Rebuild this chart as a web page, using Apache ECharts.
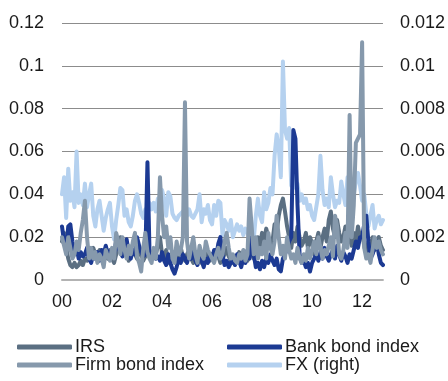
<!DOCTYPE html>
<html>
<head>
<meta charset="utf-8">
<script src="https://cdn.jsdelivr.net/npm/echarts@6/dist/echarts.min.js"></script>
<style>
  html, body { margin: 0; padding: 0; background: #ffffff; }
  #chart { width: 448px; height: 381px; }
</style>
</head>
<body>
<div id="chart"></div>
<script>
// Monthly volatility measures, Jan 2000 - Nov 2012
const startYear = 2000;
const monthCount = 155;

const irs = [
  0.018,0.022,0.015,0.010,0.007,0.006,0.008,0.006,0.007,0.009,0.007,0.010,
  0.009,0.012,0.010,0.015,0.012,0.010,0.014,0.011,0.009,0.012,0.010,0.014,
  0.010,0.008,0.012,0.016,0.020,0.012,0.016,0.013,0.009,0.011,0.014,0.012,
  0.010,0.014,0.012,0.009,0.011,0.015,0.012,0.010,0.014,0.012,0.016,0.020,
  0.012,0.010,0.014,0.008,0.011,0.009,0.013,0.010,0.012,0.015,0.011,0.009,
  0.012,0.014,0.010,0.008,0.011,0.013,0.010,0.008,0.012,0.015,0.011,0.009,
  0.012,0.010,0.014,0.011,0.008,0.010,0.012,0.015,0.011,0.009,0.008,0.011,
  0.010,0.013,0.010,0.012,0.010,0.009,0.011,0.014,0.010,0.012,0.020,0.016,
  0.022,0.018,0.024,0.020,0.015,0.018,0.026,0.022,0.030,0.035,0.038,0.032,
  0.025,0.020,0.015,0.022,0.018,0.025,0.020,0.016,0.018,0.022,0.015,0.020,
  0.017,0.012,0.018,0.022,0.015,0.020,0.024,0.018,0.028,0.032,0.024,0.020,
  0.028,0.022,0.018,0.020,0.025,0.018,0.020,0.016,0.022,0.018,0.025,0.020,
  0.022,0.016,0.012,0.018,0.015,0.020,0.014,0.018,0.020,0.016,0.014
];

const bankBond = [
  0.025,0.018,0.014,0.025,0.026,0.018,0.012,0.015,0.010,0.013,0.011,0.012,
  0.015,0.010,0.008,0.012,0.010,0.013,0.009,0.014,0.012,0.016,0.012,0.013,
  0.014,0.012,0.018,0.015,0.013,0.011,0.015,0.019,0.013,0.010,0.014,0.012,
  0.020,0.016,0.013,0.011,0.012,0.055,0.013,0.011,0.012,0.010,0.011,0.009,
  0.013,0.009,0.007,0.012,0.008,0.005,0.003,0.006,0.010,0.008,0.012,0.010,
  0.008,0.012,0.010,0.015,0.009,0.007,0.012,0.009,0.006,0.010,0.008,0.012,
  0.010,0.014,0.011,0.017,0.020,0.012,0.007,0.009,0.006,0.008,0.010,0.007,
  0.012,0.009,0.006,0.010,0.008,0.014,0.010,0.020,0.012,0.006,0.008,0.005,
  0.009,0.006,0.010,0.008,0.012,0.009,0.007,0.010,0.005,0.004,0.010,0.012,
  0.015,0.018,0.020,0.070,0.066,0.035,0.012,0.008,0.009,0.006,0.008,0.004,
  0.008,0.010,0.012,0.009,0.013,0.010,0.015,0.011,0.009,0.012,0.014,0.010,
  0.016,0.012,0.009,0.013,0.011,0.008,0.012,0.010,0.014,0.018,0.015,0.020,
  0.020,0.026,0.030,0.018,0.010,0.012,0.015,0.018,0.012,0.008,0.007
];

const firmBond = [
  0.020,0.016,0.012,0.020,0.015,0.010,0.012,0.018,0.014,0.022,0.028,0.037,
  0.020,0.010,0.015,0.010,0.013,0.008,0.012,0.010,0.006,0.014,0.011,0.009,
  0.015,0.010,0.022,0.018,0.012,0.020,0.014,0.010,0.016,0.012,0.018,0.022,
  0.011,0.008,0.004,0.015,0.022,0.013,0.010,0.008,0.015,0.010,0.020,0.048,
  0.030,0.020,0.025,0.015,0.020,0.010,0.008,0.018,0.012,0.014,0.020,0.083,
  0.018,0.010,0.015,0.020,0.012,0.008,0.016,0.012,0.010,0.018,0.014,0.012,
  0.010,0.008,0.012,0.015,0.010,0.012,0.018,0.022,0.015,0.010,0.012,0.009,
  0.008,0.012,0.010,0.014,0.009,0.012,0.038,0.025,0.012,0.020,0.010,0.015,
  0.012,0.018,0.010,0.022,0.015,0.012,0.018,0.030,0.020,0.012,0.016,0.010,
  0.020,0.014,0.010,0.012,0.008,0.015,0.010,0.008,0.012,0.009,0.015,0.010,
  0.014,0.018,0.012,0.020,0.015,0.010,0.014,0.012,0.016,0.020,0.011,0.030,
  0.025,0.012,0.010,0.014,0.022,0.015,0.077,0.020,0.035,0.064,0.066,0.068,
  0.111,0.015,0.010,0.012,0.008,0.014,0.020,0.015,0.018,0.014,0.012
];

// FX is read on the right-hand axis
const fxRight = [
  0.0040,0.0048,0.0029,0.0052,0.0037,0.0041,0.0034,0.0060,0.0036,0.0040,0.0035,0.0045,
  0.0034,0.0040,0.0045,0.0030,0.0025,0.0033,0.0037,0.0030,0.0023,0.0029,0.0033,0.0036,
  0.0025,0.0019,0.0028,0.0035,0.0043,0.0042,0.0030,0.0033,0.0027,0.0025,0.0030,0.0037,
  0.0040,0.0036,0.0031,0.0029,0.0033,0.0030,0.0036,0.0033,0.0036,0.0032,0.0038,0.0035,
  0.0042,0.0038,0.0030,0.0041,0.0039,0.0031,0.0029,0.0028,0.0030,0.0031,0.0032,0.0031,
  0.0030,0.0033,0.0030,0.0029,0.0031,0.0033,0.0040,0.0027,0.0033,0.0031,0.0035,0.0028,
  0.0026,0.0035,0.0030,0.0037,0.0036,0.0021,0.0028,0.0026,0.0023,0.0028,0.0020,0.0023,
  0.0026,0.0023,0.0025,0.0021,0.0024,0.0022,0.0020,0.0024,0.0019,0.0030,0.0038,0.0030,
  0.0027,0.0041,0.0033,0.0036,0.0043,0.0040,0.0058,0.0068,0.0062,0.0048,0.0102,0.0070,
  0.0066,0.0071,0.0044,0.0052,0.0043,0.0045,0.0037,0.0040,0.0036,0.0038,0.0033,0.0035,
  0.0030,0.0028,0.0034,0.0040,0.0058,0.0042,0.0035,0.0038,0.0034,0.0048,0.0040,0.0034,
  0.0037,0.0036,0.0046,0.0040,0.0035,0.0048,0.0042,0.0038,0.0040,0.0046,0.0050,0.0044,
  0.0037,0.0040,0.0031,0.0025,0.0030,0.0035,0.0024,0.0028,0.0030,0.0026,0.0028
];

const yearTicks = ['00', '02', '04', '06', '08', '10', '12'];

// Month categories "YYYY-MM"
const months = [];
for (let i = 0; i < monthCount; i++) {
  const y = startYear + Math.floor(i / 12);
  const m = (i % 12) + 1;
  months.push(y + '-' + (m < 10 ? '0' + m : m));
}

const FONT = 'Liberation Sans, Arial, sans-serif';
const TEXT = '#1a1a1a';

const colors = {
  irs: '#5b6f82',
  bank: '#1c3a93',
  firm: '#8699ac',
  fx: '#b5d1ef'
};

function lineSeries(name, data, color, yAxisIndex) {
  return {
    name: name,
    type: 'line',
    data: data,
    yAxisIndex: yAxisIndex,
    symbol: 'none',
    showSymbol: false,
    animation: false,
    lineStyle: { color: color, width: 4, join: 'round', cap: 'round' },
    itemStyle: { color: color }
  };
}

const chart = echarts.init(document.getElementById('chart'), null, { renderer: 'canvas' });

const legendCommon = {
  orient: 'vertical',
  icon: 'roundRect',
  itemWidth: 55,
  itemHeight: 5,
  itemGap: 0,
  padding: 0,
  textStyle: { fontFamily: FONT, fontSize: 18, color: TEXT, padding: [0, 0, 0, -2] }
};

chart.setOption({
  animation: false,
  backgroundColor: '#ffffff',
  grid: { left: 62, right: 64, top: 23, bottom: 101, containLabel: false },
  legend: [
    Object.assign({}, legendCommon, { left: 17, top: 338, data: ['IRS', 'Firm bond index'] }),
    Object.assign({}, legendCommon, { left: 227, top: 338, data: ['Bank bond index', 'FX (right)'] })
  ],
  xAxis: {
    type: 'category',
    data: months,
    boundaryGap: false,
    axisLine: { show: true, lineStyle: { color: '#b3b3b3', width: 2 } },
    axisTick: { show: false },
    axisLabel: {
      margin: 13,
      fontFamily: FONT,
      fontSize: 18,
      color: TEXT,
      interval: function (index) { return index % 24 === 0; },
      formatter: function (value, index) { return yearTicks[index / 24]; }
    },
    splitLine: { show: false }
  },
  yAxis: [
    {
      type: 'value',
      min: 0, max: 0.12, interval: 0.02,
      axisLine: { show: false },
      axisTick: { show: false },
      axisLabel: { margin: 18, fontFamily: FONT, fontSize: 18, color: TEXT },
      splitLine: { show: true, lineStyle: { color: '#8c8c8c', width: 1 } }
    },
    {
      type: 'value',
      min: 0, max: 0.012, interval: 0.002,
      position: 'right',
      axisLine: { show: false },
      axisTick: { show: false },
      axisLabel: { margin: 17, fontFamily: FONT, fontSize: 18, color: TEXT },
      splitLine: { show: false }
    }
  ],
  series: [
    lineSeries('FX (right)', fxRight, colors.fx, 1),
    lineSeries('IRS', irs, colors.irs, 0),
    lineSeries('Bank bond index', bankBond, colors.bank, 0),
    lineSeries('Firm bond index', firmBond, colors.firm, 0)
  ]
});
</script>
</body>
</html>
